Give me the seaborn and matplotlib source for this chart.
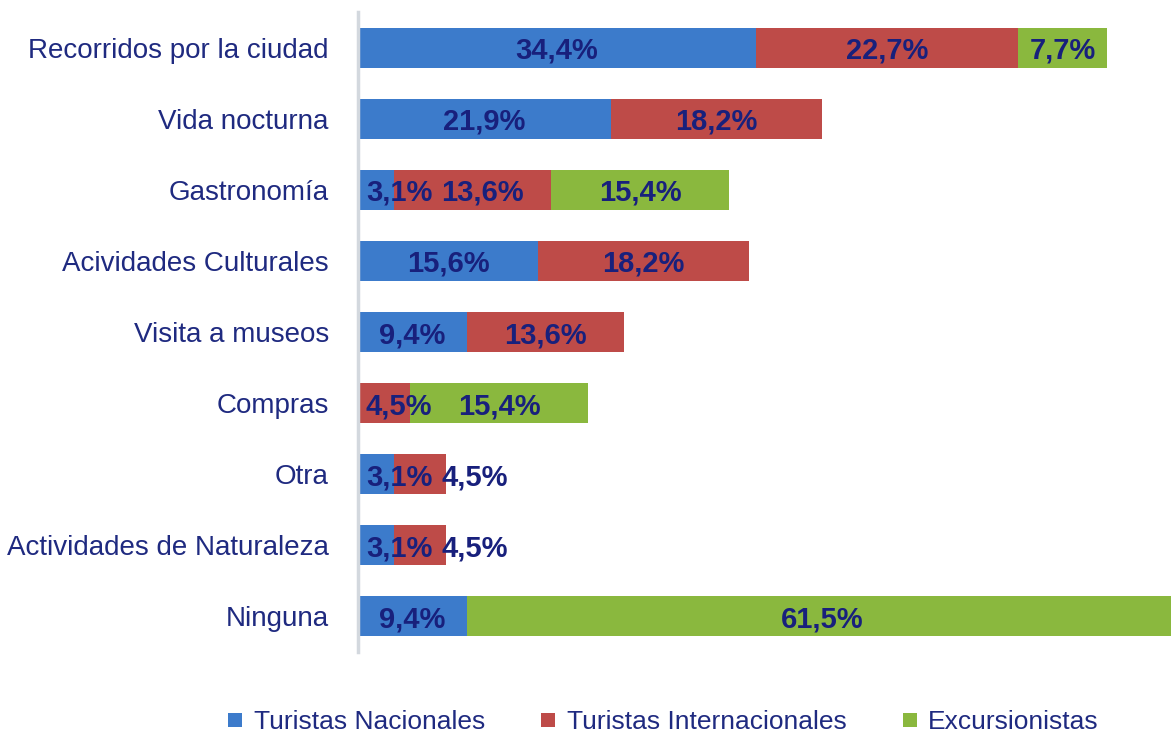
import matplotlib
matplotlib.use("Agg")
import matplotlib.pyplot as plt
from matplotlib.lines import Line2D
import pandas as pd
import seaborn as sns

categories = [
    "Recorridos por la ciudad",
    "Vida nocturna",
    "Gastronomía",
    "Acividades Culturales",
    "Visita a museos",
    "Compras",
    "Otra",
    "Actividades de Naturaleza",
    "Ninguna",
]
series_names = ["Turistas Nacionales", "Turistas Internacionales", "Excursionistas"]
nacionales = [34.4, 21.9, 3.1, 15.6, 9.4, 0.0, 3.1, 3.1, 9.4]
internacionales = [22.7, 18.2, 13.6, 18.2, 13.6, 4.5, 4.5, 4.5, 0.0]
excursionistas = [7.7, 0.0, 15.4, 0.0, 0.0, 15.4, 0.0, 0.0, 61.5]

colors = ["#3C7BCB", "#BE4B48", "#8AB83E"]
label_color = "#18207C"
tick_color = "#1F2A80"
FONT = ["Liberation Sans Narrow", "Liberation Sans", "DejaVu Sans"]

sns.set_theme(style="white")
plt.rcParams["font.family"] = FONT

df = pd.DataFrame({
    "categoria": categories,
    "nac": nacionales,
    "inter": internacionales,
    "exc": excursionistas,
})
df["c1"] = df["nac"]
df["c2"] = df["c1"] + df["inter"]
df["c3"] = df["c2"] + df["exc"]

fig = plt.figure(figsize=(11.71, 7.35), dpi=100)
ax = fig.add_axes([0.3057, 0.113, 0.6943, 0.8705])

# stacked bars: draw totals first, then overlay the shorter cumulative sums
for col, color in zip(["c3", "c2", "c1"], colors[::-1]):
    sns.barplot(data=df, x=col, y="categoria", color=color, saturation=1,
                width=0.56, orient="h", ax=ax, linewidth=0)

xmax = 70.3
ax.set_xlim(0, xmax)
ax.set_xlabel("")
ax.set_ylabel("")
ax.set_xticks([])
for side in ["top", "right", "bottom"]:
    ax.spines[side].set_visible(False)
ax.spines["left"].set_color("#D3D8DE")
ax.spines["left"].set_linewidth(2.5)
ax.tick_params(axis="y", length=0, pad=21, labelsize=20, labelcolor=tick_color)

# value labels, nudged so they do not run into each other
fig.canvas.draw()
renderer = fig.canvas.get_renderer()
px_per_unit = ax.bbox.width / xmax
series = [nacionales, internacionales, excursionistas]
for i in range(len(categories)):
    left = 0.0
    prev_right = ax.bbox.x0 + 8
    for vals in series:
        v = vals[i]
        if v == 0:
            continue
        txt = f"{v:.1f}%".replace(".", ",")
        t = ax.text(left + v / 2, i, txt, ha="center", va="center_baseline",
                    fontsize=21, fontweight="bold", color=label_color)
        bb = t.get_window_extent(renderer)
        shift = max(0.0, prev_right - bb.x0)
        t.set_x(left + v / 2 + shift / px_per_unit)
        prev_right = bb.x1 + shift + 9
        left += v

handles = [Line2D([], [], marker="s", linestyle="", markersize=10,
                  markerfacecolor=c, markeredgewidth=0) for c in colors]
fig.legend(handles, series_names, loc="center", bbox_to_anchor=(0.565, 0.018),
           ncol=3, frameon=False, fontsize=19, handletextpad=0.3,
           columnspacing=2.0, labelcolor=tick_color, handlelength=0.8)

fig.savefig("out.png", dpi=100)
